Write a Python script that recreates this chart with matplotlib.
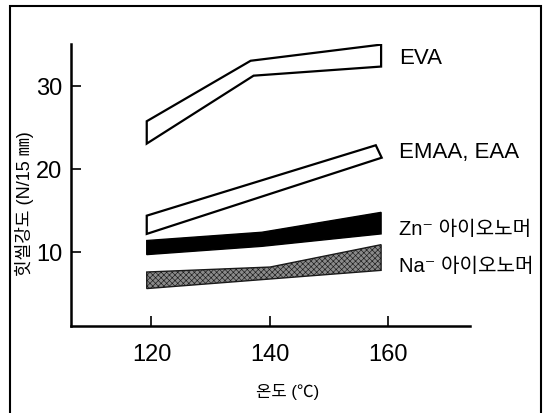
import matplotlib
matplotlib.use("Agg")
import matplotlib.pyplot as plt
from matplotlib.patches import Polygon, Rectangle

# ---- data ----
series_names = ["EVA", "EMAA, EAA", "Zn⁻ 아이오노머", "Na⁻ 아이오노머"]

eva_upper_x = [119.2, 136.8, 158.9]
eva_upper_y = [25.8, 33.1, 35.05]
eva_lower_x = [119.2, 137.3, 158.9]
eva_lower_y = [23.1, 31.3, 32.4]

emaa_upper_x = [119.2, 158.0]
emaa_upper_y = [14.4, 22.9]
emaa_lower_x = [119.2, 159.0]
emaa_lower_y = [12.2, 21.4]

zn_upper_x = [119.2, 138.7, 158.9]
zn_upper_y = [11.4, 12.4, 14.8]
zn_lower_x = [119.2, 138.7, 158.9]
zn_lower_y = [9.7, 10.7, 12.2]

na_upper_x = [119.2, 140.1, 158.9]
na_upper_y = [7.6, 8.2, 10.9]
na_lower_x = [119.2, 158.9]
na_lower_y = [5.6, 7.8]

label_x = 162.0
label_y = [33.4, 22.0, 12.75, 8.3]
label_size = [16, 16, 14.5, 14.5]

x_ticks = [120, 140, 160]
y_ticks = [10, 20, 30]

xlabel = "온도 (℃)"
ylabel = "힛씰강도 (N/15 ㎜)"

# ---- figure ----
num_font = ["Liberation Sans", "DejaVu Sans"]
kor_font = ["Liberation Sans", "Noto Sans CJK KR", "DejaVu Sans"]
plt.rcParams["hatch.linewidth"] = 0.45

fig = plt.figure(figsize=(5.43, 4.13), dpi=100)
ax = fig.add_axes([0.130, 0.211, 0.736, 0.682])

def band(ux, uy, lx, ly, **kw):
    pts = list(zip(ux, uy)) + list(zip(lx[::-1], ly[::-1]))
    ax.add_patch(Polygon(pts, closed=True, **kw))

band(eva_upper_x, eva_upper_y, eva_lower_x, eva_lower_y,
     facecolor="white", edgecolor="black", linewidth=1.6, joinstyle="miter")
band(emaa_upper_x, emaa_upper_y, emaa_lower_x, emaa_lower_y,
     facecolor="white", edgecolor="black", linewidth=1.6, joinstyle="miter")
band(zn_upper_x, zn_upper_y, zn_lower_x, zn_lower_y,
     facecolor="black", edgecolor="black", linewidth=1.0)
band(na_upper_x, na_upper_y, na_lower_x, na_lower_y,
     facecolor="#8a8a8a", edgecolor="#1a1a1a", linewidth=1.0, hatch="xxxxxx")

for name, ly, fs in zip(series_names, label_y, label_size):
    ax.text(label_x, ly, name, fontsize=fs, family=kor_font,
            va="center", ha="left")

ax.set_xlim(106.3, 174)
ax.set_ylim(1.1, 35.1)
ax.set_xticks(x_ticks)
ax.set_yticks(y_ticks)
ax.tick_params(direction="in", length=7, width=1.2, colors="black")
ax.tick_params(axis="x", pad=13, labelsize=17)
ax.tick_params(axis="y", pad=6, labelsize=17)
for lab in ax.get_xticklabels() + ax.get_yticklabels():
    lab.set_family(num_font)

for s in ["top", "right"]:
    ax.spines[s].set_visible(False)
for s in ["left", "bottom"]:
    ax.spines[s].set_linewidth(1.8)

ax.set_xlabel(xlabel, fontsize=12, family=kor_font)
ax.xaxis.set_label_coords(0.542, -0.205)
ax.set_ylabel(ylabel, fontsize=13, family=kor_font, va="center")
ax.yaxis.set_label_coords(-0.115, 0.433)

# outer frame
fig.add_artist(Rectangle((10 / 543, -0.05), 531 / 543, 1.05 - 6 / 413,
                         transform=fig.transFigure, fill=False,
                         edgecolor="black", linewidth=1.5))

fig.savefig("out.png", dpi=100)
